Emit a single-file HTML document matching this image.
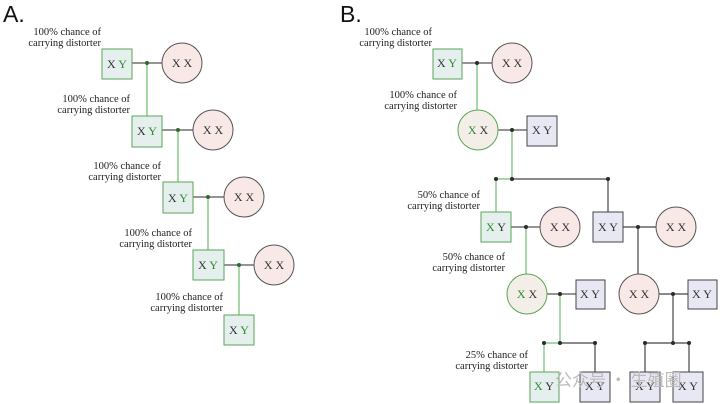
<!DOCTYPE html>
<html><head><meta charset="utf-8"><style>
html,body{margin:0;padding:0;background:#fff;}
svg{display:block;}
text{font-family:"Liberation Serif",serif;}
.lbl{font-size:10.5px;fill:#222;text-anchor:end;}
.g{fill:#2e8b2e;}
.n{fill:#333;}
.xy{font-size:12px;text-anchor:middle;}
</style></head><body>
<svg width="720" height="404" viewBox="0 0 720 404">
<text x="3" y="22" font-family="Liberation Sans" font-size="23" fill="#111" style="font-family:'Liberation Sans',sans-serif">A.</text>
<text x="340" y="22" font-size="23" fill="#111" style="font-family:'Liberation Sans',sans-serif">B.</text>

<!-- Panel A -->
<g stroke-width="1.2">
<line x1="132" y1="63" x2="162" y2="63" stroke="#555"/>
<line x1="147" y1="63" x2="147" y2="116" stroke="#6cbf6c"/>
<line x1="162" y1="130" x2="193" y2="130" stroke="#555"/>
<line x1="178" y1="130" x2="178" y2="182" stroke="#6cbf6c"/>
<line x1="193" y1="197" x2="224" y2="197" stroke="#555"/>
<line x1="208" y1="197" x2="208" y2="250" stroke="#6cbf6c"/>
<line x1="224" y1="265" x2="254" y2="265" stroke="#555"/>
<line x1="239" y1="265" x2="239" y2="315" stroke="#6cbf6c"/>
</g>
<g fill="#2f6b2f">
<circle cx="147" cy="63" r="2"/><circle cx="178" cy="130" r="2"/><circle cx="208" cy="197" r="2"/><circle cx="239" cy="265" r="2"/>
</g>
<g fill="#e4efee" stroke="#5aa55a" stroke-width="1">
<rect x="102" y="49" width="30" height="30"/>
<rect x="132" y="116" width="30" height="31"/>
<rect x="163" y="182" width="30" height="31"/>
<rect x="193" y="250" width="31" height="30"/>
<rect x="224" y="315" width="30" height="30"/>
</g>
<g fill="#f8e8e6" stroke="#555" stroke-width="1">
<circle cx="182" cy="63" r="20"/><circle cx="213" cy="130" r="20"/><circle cx="244" cy="197" r="20"/><circle cx="274" cy="265" r="20"/>
</g>
<g class="xy">
<text x="117" y="68"><tspan class="n">X </tspan><tspan class="g">Y</tspan></text>
<text x="147" y="135"><tspan class="n">X </tspan><tspan class="g">Y</tspan></text>
<text x="178" y="202"><tspan class="n">X </tspan><tspan class="g">Y</tspan></text>
<text x="208" y="269"><tspan class="n">X </tspan><tspan class="g">Y</tspan></text>
<text x="239" y="334"><tspan class="n">X </tspan><tspan class="g">Y</tspan></text>
<text x="182" y="67" class="n">X X</text><text x="213" y="134" class="n">X X</text><text x="244" y="201" class="n">X X</text><text x="274" y="269" class="n">X X</text>
</g>
<g class="lbl">
<text x="101" y="35">100% chance of</text><text x="101" y="46">carrying distorter</text>
<text x="130" y="102">100% chance of</text><text x="130" y="113">carrying distorter</text>
<text x="161" y="169">100% chance of</text><text x="161" y="180">carrying distorter</text>
<text x="192" y="236">100% chance of</text><text x="192" y="247">carrying distorter</text>
<text x="223" y="300">100% chance of</text><text x="223" y="311">carrying distorter</text>
</g>

<!-- Panel B -->
<g stroke-width="1.2">
<line x1="462" y1="63" x2="492" y2="63" stroke="#555"/>
<line x1="477" y1="63" x2="477" y2="110" stroke="#6cbf6c"/>
<line x1="498" y1="130" x2="527" y2="130" stroke="#555"/>
<line x1="512" y1="130" x2="512" y2="179" stroke="#6cbf6c"/>
<line x1="512" y1="179" x2="608" y2="179" stroke="#444"/>
<line x1="496" y1="179" x2="512" y2="179" stroke="#6cbf6c"/>
<line x1="496" y1="179" x2="496" y2="212" stroke="#6cbf6c"/>
<line x1="608" y1="179" x2="608" y2="212" stroke="#444"/>
<line x1="511" y1="227" x2="540" y2="227" stroke="#555"/>
<line x1="526" y1="227" x2="526" y2="274" stroke="#6cbf6c"/>
<line x1="623" y1="227" x2="656" y2="227" stroke="#444"/>
<line x1="638" y1="227" x2="638" y2="274" stroke="#444"/>
<line x1="546" y1="294" x2="576" y2="294" stroke="#555"/>
<line x1="560" y1="294" x2="560" y2="343" stroke="#6cbf6c"/>
<line x1="544" y1="343" x2="560" y2="343" stroke="#6cbf6c"/>
<line x1="544" y1="343" x2="544" y2="372" stroke="#6cbf6c"/>
<line x1="560" y1="343" x2="595" y2="343" stroke="#444"/>
<line x1="595" y1="343" x2="595" y2="372" stroke="#444"/>
<line x1="659" y1="294" x2="688" y2="294" stroke="#444"/>
<line x1="673" y1="294" x2="673" y2="343" stroke="#444"/>
<line x1="645" y1="343" x2="689" y2="343" stroke="#444"/>
<line x1="645" y1="343" x2="645" y2="372" stroke="#444"/>
<line x1="689" y1="343" x2="689" y2="372" stroke="#444"/>
</g>
<g fill="#2b2b2b">
<circle cx="477" cy="63" r="2"/><circle cx="512" cy="130" r="2"/><circle cx="496" cy="179" r="2"/><circle cx="512" cy="179" r="2"/><circle cx="608" cy="179" r="2"/>
<circle cx="526" cy="227" r="2"/><circle cx="638" cy="227" r="2"/><circle cx="560" cy="294" r="2"/><circle cx="673" cy="294" r="2"/>
<circle cx="544" cy="343" r="2"/><circle cx="560" cy="343" r="2"/><circle cx="595" cy="343" r="2"/><circle cx="645" cy="343" r="2"/><circle cx="673" cy="343" r="2"/><circle cx="689" cy="343" r="2"/>
</g>
<g fill="#e4efee" stroke="#5aa55a">
<rect x="433" y="49" width="29" height="30"/>
<rect x="481" y="212" width="30" height="30"/>
<rect x="530" y="372" width="29" height="30"/>
</g>
<g fill="#e8e8f5" stroke="#444">
<rect x="527" y="116" width="30" height="30"/>
<rect x="593" y="212" width="30" height="30"/>
<rect x="576" y="280" width="29" height="29"/>
<rect x="688" y="280" width="29" height="29"/>
<rect x="580" y="372" width="30" height="30"/>
<rect x="630" y="372" width="30" height="30"/>
<rect x="673" y="372" width="30" height="30"/>
</g>
<g fill="#f8e8e6" stroke="#555">
<circle cx="512" cy="63" r="20"/><circle cx="560" cy="227" r="20"/><circle cx="676" cy="227" r="20"/><circle cx="639" cy="294" r="20"/>
</g>
<g fill="#f3efe8" stroke="#5aa55a">
<circle cx="478" cy="130" r="20"/><circle cx="527" cy="294" r="20"/>
</g>
<g class="xy">
<text x="447" y="67"><tspan class="n">X </tspan><tspan class="g">Y</tspan></text>
<text x="478" y="134"><tspan class="g">X </tspan><tspan class="n">X</tspan></text>
<text x="496" y="231"><tspan class="g">X </tspan><tspan class="n">Y</tspan></text>
<text x="527" y="298"><tspan class="g">X </tspan><tspan class="n">X</tspan></text>
<text x="544" y="390"><tspan class="g">X </tspan><tspan class="n">Y</tspan></text>
<text x="512" y="67" class="n">X X</text>
<text x="542" y="134" class="n">X Y</text>
<text x="560" y="231" class="n">X X</text>
<text x="608" y="231" class="n">X Y</text>
<text x="676" y="231" class="n">X X</text>
<text x="639" y="298" class="n">X X</text>
<text x="590" y="298" class="n">X Y</text>
<text x="702" y="298" class="n">X Y</text>
<text x="595" y="390" class="n">X Y</text>
<text x="645" y="390" class="n">X Y</text>
<text x="688" y="390" class="n">X Y</text>
</g>
<g class="lbl">
<text x="432" y="35">100% chance of</text><text x="432" y="46">carrying distorter</text>
<text x="457" y="98">100% chance of</text><text x="457" y="109">carrying distorter</text>
<text x="480" y="198">50% chance of</text><text x="480" y="209">carrying distorter</text>
<text x="505" y="260">50% chance of</text><text x="505" y="271">carrying distorter</text>
<text x="528" y="358">25% chance of</text><text x="528" y="369">carrying distorter</text>
</g>
<text x="555" y="386" font-size="17" fill="#bbb" style="font-family:'Noto Sans CJK SC',sans-serif">公众号 · 生殖圈</text>
</svg>
</body></html>
